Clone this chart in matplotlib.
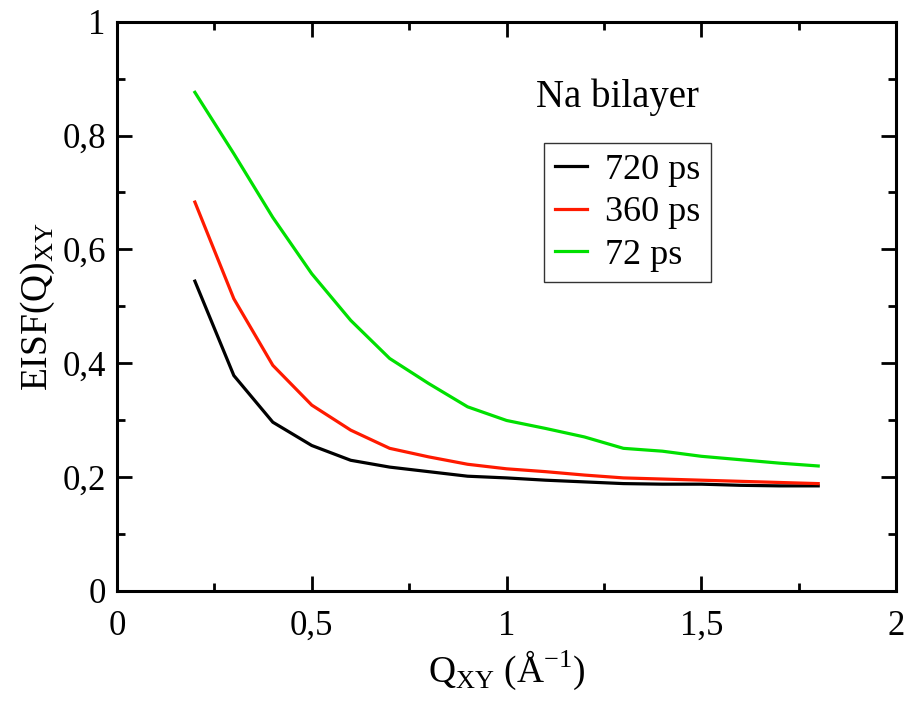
import matplotlib
matplotlib.use("Agg")
import matplotlib.pyplot as plt
from matplotlib.ticker import FuncFormatter, MultipleLocator

plt.rcParams["font.family"] = ["Liberation Serif", "DejaVu Serif"]
plt.rcParams["mathtext.fontset"] = "custom"
plt.rcParams["mathtext.rm"] = "Liberation Serif"

# Q values (1/Angstrom)
q = [0.2, 0.3, 0.4, 0.5, 0.6, 0.7, 0.8, 0.9, 1.0,
     1.1, 1.2, 1.3, 1.4, 1.5, 1.6, 1.7, 1.8]

# EISF for each time window
eisf_720 = [0.544, 0.378, 0.296, 0.255, 0.229, 0.217, 0.209, 0.201, 0.198,
            0.194, 0.191, 0.188, 0.187, 0.187, 0.185, 0.184, 0.184]
eisf_360 = [0.683, 0.513, 0.396, 0.326, 0.282, 0.250, 0.235, 0.222, 0.214,
            0.209, 0.203, 0.198, 0.196, 0.194, 0.192, 0.190, 0.188]
eisf_72 = [0.876, 0.768, 0.656, 0.557, 0.475, 0.408, 0.364, 0.323, 0.299,
           0.285, 0.270, 0.250, 0.245, 0.236, 0.230, 0.224, 0.219]

labels = ["720 ps", "360 ps", "72 ps"]
colors = ["black", "#ff1a00", "#00e000"]


def comma_fmt(v, pos):
    return ("%g" % round(v, 3)).replace(".", ",")


fig = plt.figure(figsize=(9.21, 7.03), dpi=100)
ax = fig.add_axes([0.127, 0.160, 0.846, 0.809])

for y, lab, c in zip([eisf_720, eisf_360, eisf_72], labels, colors):
    ax.plot(q, y, color=c, lw=2.3, label=lab)

ax.set_xlim(0, 2)
ax.set_ylim(0, 1)
ax.xaxis.set_major_locator(MultipleLocator(0.5))
ax.xaxis.set_minor_locator(MultipleLocator(0.25))
ax.yaxis.set_major_locator(MultipleLocator(0.2))
ax.yaxis.set_minor_locator(MultipleLocator(0.1))
ax.xaxis.set_major_formatter(FuncFormatter(comma_fmt))
ax.yaxis.set_major_formatter(FuncFormatter(comma_fmt))

ax.tick_params(which="both", direction="in", top=True, right=True,
               width=2, labelsize=25)
ax.tick_params(which="major", length=11)
ax.tick_params(axis="x", which="major", pad=14)
ax.tick_params(axis="y", which="major", pad=8)
ax.tick_params(which="minor", length=6)
for s in ax.spines.values():
    s.set_linewidth(2.2)

ax.set_xlabel("Q$_{\\mathrm{XY}}$ (Å$^{\\mathrm{-1}}$)", fontsize=27, labelpad=4)
ax.set_ylabel("EISF(Q)$_{\\mathrm{XY}}$", fontsize=27, labelpad=4)

ax.text(0.642, 0.868, "Na bilayer", transform=ax.transAxes,
        ha="center", va="center", fontsize=28)

leg = ax.legend(loc="upper left", bbox_to_anchor=(0.548, 0.787),
                fontsize=26, frameon=True, fancybox=False,
                handlelength=0.9, handletextpad=0.5, borderpad=0.3,
                labelspacing=0.25, borderaxespad=0)
leg.get_frame().set_edgecolor("black")
leg.get_frame().set_linewidth(1.0)

fig.savefig("out.png", dpi=100)
